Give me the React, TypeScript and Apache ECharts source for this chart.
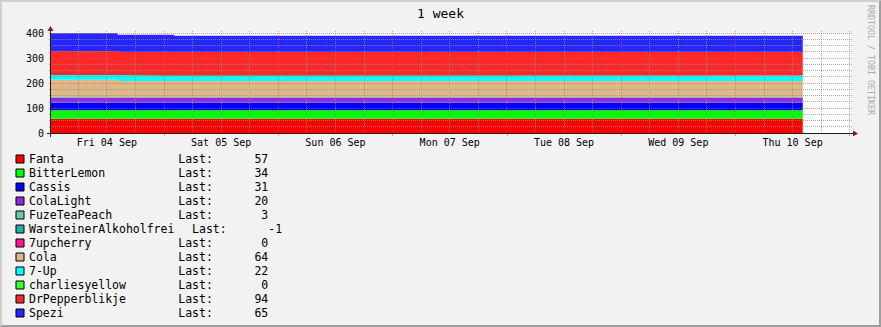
import React, { useEffect, useRef } from 'react';
import * as echarts from 'echarts';

// ---------- data ----------
const sampleTimes = ['2020-09-04T00:16:00Z', '2020-09-04T14:14:00Z', '2020-09-05T02:06:00Z', '2020-09-10T14:08:00Z'];
const axisStart = '2020-09-04T00:16:00Z';
const axisEnd = '2020-09-11T00:16:00Z';
const firstDay = '2020-09-04T00:00:00Z';
const dayLabels = ['Fri 04 Sep', 'Sat 05 Sep', 'Sun 06 Sep', 'Mon 07 Sep', 'Tue 08 Sep', 'Wed 09 Sep', 'Thu 10 Sep'];

const seriesNames = ['Fanta', 'BitterLemon', 'Cassis', 'ColaLight', 'FuzeTeaPeach', 'WarsteinerAlkoholfrei', '7upcherry', 'Cola', '7-Up', 'charliesyellow', 'DrPepperblikje', 'Spezi'];
const seriesColors = ['#FF0000', '#00FF00', '#0000FF', '#8A2BE2', '#66CDAA', '#20B2AA', '#FF1493', '#DEB887', '#00FFFF', '#33FF33', '#FF2828', '#2626FF'];

const fanta = [57, 57, 57, 57];
const bitterLemon = [34, 34, 34, 34];
const cassis = [31, 31, 31, 31];
const colaLight = [20, 20, 20, 20];
const fuzeTeaPeach = [3, 2, 3, 3];
const warsteiner = [1, 0, -1, -1];
const upCherry = [0, 0, 0, 0];
const cola = [67, 64, 64, 64];
const sevenUp = [19, 24, 22, 22];
const charliesYellow = [0, 0, 0, 0];
const drPepper = [96, 92, 94, 94];
const spezi = [71, 69, 65, 65];
const seriesValues = [fanta, bitterLemon, cassis, colaLight, fuzeTeaPeach, warsteiner, upCherry, cola, sevenUp, charliesYellow, drPepper, spezi];

const yMin = 0;
const yMax = 400;
const yStep = 100;
const yMinorStep = 25;

// ---------- layout / style ----------
const W = 881;
const H = 327;
const GL = 51;
const GT = 33;
const GW = 800;
const GH = 100;
const FONT = 'DejaVu Sans Mono';
const GRID_COLOR = 'rgba(143,143,143,0.75)';
const MGRID_COLOR = 'rgba(222,79,79,0.6)';
const AXIS_COLOR = '#1F1F1F';
const ARROW_COLOR = '#801F1F';
const LEGEND_FS = 11.5;
const CW = LEGEND_FS * 0.6021;

export default function App() {
  const ref = useRef<HTMLDivElement>(null);

  useEffect(() => {
    document.body.style.margin = '0';
    if (!ref.current) return;
    const chart = echarts.init(ref.current, undefined, { renderer: 'svg', width: W, height: H });

    const HOUR = 3600 * 1000;
    const xMin = Date.parse(axisStart);
    const xMax = Date.parse(axisEnd);
    const day0 = Date.parse(firstDay);
    const times = sampleTimes.map((s) => Date.parse(s));

    // grid items: [x, y, kind]; kind 0 minor horizontal, 1 minor vertical, 2 major horizontal, 3 major vertical
    const majorV: number[] = [];
    const minorV: number[] = [];
    for (let h = 6; day0 + h * HOUR <= xMax; h += 6) {
      const t = day0 + h * HOUR;
      if (t < xMin) continue;
      (h % 24 === 0 ? majorV : minorV).push(t);
    }
    const minorH: number[] = [];
    const majorH: number[] = [];
    for (let v = yMin + yMinorStep; v <= yMax; v += yMinorStep) {
      (v % yStep === 0 ? majorH : minorH).push(v);
    }
    const gridItems: number[][] = [
      ...minorH.map((v) => [xMin, v, 0]),
      ...minorV.map((t) => [t, yMin, 1]),
      ...majorH.map((v) => [xMin, v, 2]),
      ...majorV.map((t) => [t, yMin, 3]),
    ];
    const noonTimes = dayLabels.map((_, i) => day0 + (i * 24 + 12) * HOUR);

    const rich: Record<string, any> = {};
    seriesNames.forEach((n, i) => {
      rich['n' + i] = {
        width: Math.max(19, n.length) * CW + 17.7,
        fontFamily: FONT,
        fontSize: LEGEND_FS,
        color: '#000',
        lineHeight: 14,
      };
    });
    rich.l = { fontFamily: FONT, fontSize: LEGEND_FS, color: '#000', lineHeight: 14 };

    const lastOf = (name: string) => {
      const arr = seriesValues[seriesNames.indexOf(name)];
      return arr ? arr[arr.length - 1] : 0;
    };

    // data stored as [count, time] so that the stack is applied to the count dimension
    const series: any[] = seriesNames.map((name, i) => ({
      name,
      type: 'line',
      encode: { x: 1, y: 0 },
      stack: 'drinks',
      stackStrategy: 'all',
      step: 'end',
      symbol: 'none',
      showSymbol: false,
      silent: true,
      color: seriesColors[i],
      itemStyle: { color: seriesColors[i] },
      lineStyle: { width: 0, color: seriesColors[i] },
      areaStyle: { color: seriesColors[i], opacity: 1 },
      emphasis: { disabled: true },
      data: times.map((t, k) => [seriesValues[i][k], t]),
      z: 2,
    }));

    // rrdtool draws its dotted grid over the data
    series.push({
      name: '__grid',
      type: 'custom',
      silent: true,
      z: 10,
      dimensions: ['gx', 'gy', 'kind'],
      encode: { x: 0, y: 1 },
      data: gridItems,
      renderItem: (params: any, api: any) => {
        const kind = api.value(2);
        const cs = params.coordSys;
        const p = api.coord([api.value(0), api.value(1)]);
        const style = {
          stroke: kind >= 2 ? MGRID_COLOR : GRID_COLOR,
          lineWidth: 1,
          lineDash: [1, 1],
          fill: null,
        };
        if (kind === 0 || kind === 2) {
          const y = Math.floor(p[1]) + 0.5;
          return { type: 'line', z2: kind, shape: { x1: cs.x, y1: y, x2: cs.x + cs.width + 2, y2: y }, style };
        }
        const x = Math.floor(p[0]) + 0.5;
        return { type: 'line', z2: kind, shape: { x1: x, y1: cs.y - 2, x2: x, y2: cs.y + cs.height }, style };
      },
    });

    const ax0 = GL;
    const ay0 = GT + GH;

    chart.setOption({
      animation: false,
      backgroundColor: 'transparent',
      title: {
        text: '1 week',
        left: 'center',
        top: 7,
        padding: 0,
        textStyle: { fontFamily: FONT, fontSize: 13, fontWeight: 'normal', color: '#000' },
      },
      grid: {
        left: GL,
        top: GT,
        width: GW,
        height: GH,
        show: true,
        backgroundColor: '#FFFFFF',
        borderWidth: 0,
      },
      xAxis: {
        type: 'value',
        min: xMin,
        max: xMax,
        axisLine: { show: false },
        splitLine: { show: false },
        axisTick: { show: true, customValues: majorV, length: 3, lineStyle: { color: MGRID_COLOR } },
        axisLabel: {
          customValues: noonTimes,
          formatter: (v: number) => dayLabels[Math.round((v - day0 - 12 * HOUR) / (24 * HOUR))] || '',
          fontFamily: FONT,
          fontSize: 10,
          color: '#000',
          margin: 4,
          hideOverlap: false,
        },
      },
      yAxis: [
        {
          type: 'value',
          min: yMin,
          max: yMax,
          interval: yStep,
          axisLine: { show: false },
          splitLine: { show: false },
          axisTick: { show: true, length: 2, lineStyle: { color: MGRID_COLOR } },
          minorTick: { show: true, splitNumber: yStep / yMinorStep, length: 2, lineStyle: { color: GRID_COLOR } },
          axisLabel: { fontFamily: FONT, fontSize: 10, color: '#000', margin: 7 },
        },
      ],
      legend: {
        data: seriesNames,
        orient: 'vertical',
        left: 15.5,
        top: 152,
        icon: 'rect',
        itemWidth: 8,
        itemHeight: 8,
        itemGap: 0,
        padding: 0,
        selectedMode: false,
        itemStyle: { borderColor: '#000', borderWidth: 1 },
        textStyle: { fontFamily: FONT, fontSize: LEGEND_FS, color: '#000', lineHeight: 14, rich },
        formatter: (name: string) => {
          const i = seriesNames.indexOf(name);
          return `{n${i}|${name}}{l|Last:${String(lastOf(name)).padStart(8, ' ')}}`;
        },
      },
      graphic: [
        {
          type: 'line',
          z: 20,
          silent: true,
          shape: { x1: ax0 - 4, y1: ay0 + 0.5, x2: ax0 + GW + 4, y2: ay0 + 0.5 },
          style: { stroke: AXIS_COLOR, lineWidth: 1 },
        },
        {
          type: 'line',
          z: 20,
          silent: true,
          shape: { x1: ax0 - 0.5, y1: ay0 + 4, x2: ax0 - 0.5, y2: GT - 4 },
          style: { stroke: AXIS_COLOR, lineWidth: 1 },
        },
        {
          type: 'polygon',
          z: 21,
          silent: true,
          shape: { points: [[ax0 + GW + 2, ay0 - 2.5], [ax0 + GW + 2, ay0 + 3.5], [ax0 + GW + 7, ay0 + 0.5]] },
          style: { fill: ARROW_COLOR },
        },
        {
          type: 'polygon',
          z: 21,
          silent: true,
          shape: { points: [[ax0 - 3.5, GT - 2], [ax0 + 2.5, GT - 2], [ax0 - 0.5, GT - 7]] },
          style: { fill: ARROW_COLOR },
        },
        {
          type: 'text',
          z: 20,
          silent: true,
          x: 871,
          y: 5,
          rotation: -Math.PI / 2,
          style: {
            text: 'RRDTOOL / TOBI OETIKER',
            font: `8.3px ${FONT}`,
            fill: '#ABABAB',
            align: 'left',
            verticalAlign: 'middle',
          },
        },
      ],
      series,
    });

    return () => chart.dispose();
  }, []);

  return (
    <div style={{ position: 'absolute', left: 0, top: 0, width: W, height: H, background: '#F2F2F2' }}>
      <div ref={ref} style={{ width: W, height: H }} />
      <div
        style={{
          position: 'absolute',
          left: 0,
          top: 0,
          width: W,
          height: H,
          boxSizing: 'border-box',
          borderTop: '2px solid #CFCFCF',
          borderLeft: '2px solid #CFCFCF',
          borderBottom: '2px solid #9E9E9E',
          borderRight: '2px solid #9E9E9E',
          pointerEvents: 'none',
        }}
      />
    </div>
  );
}
